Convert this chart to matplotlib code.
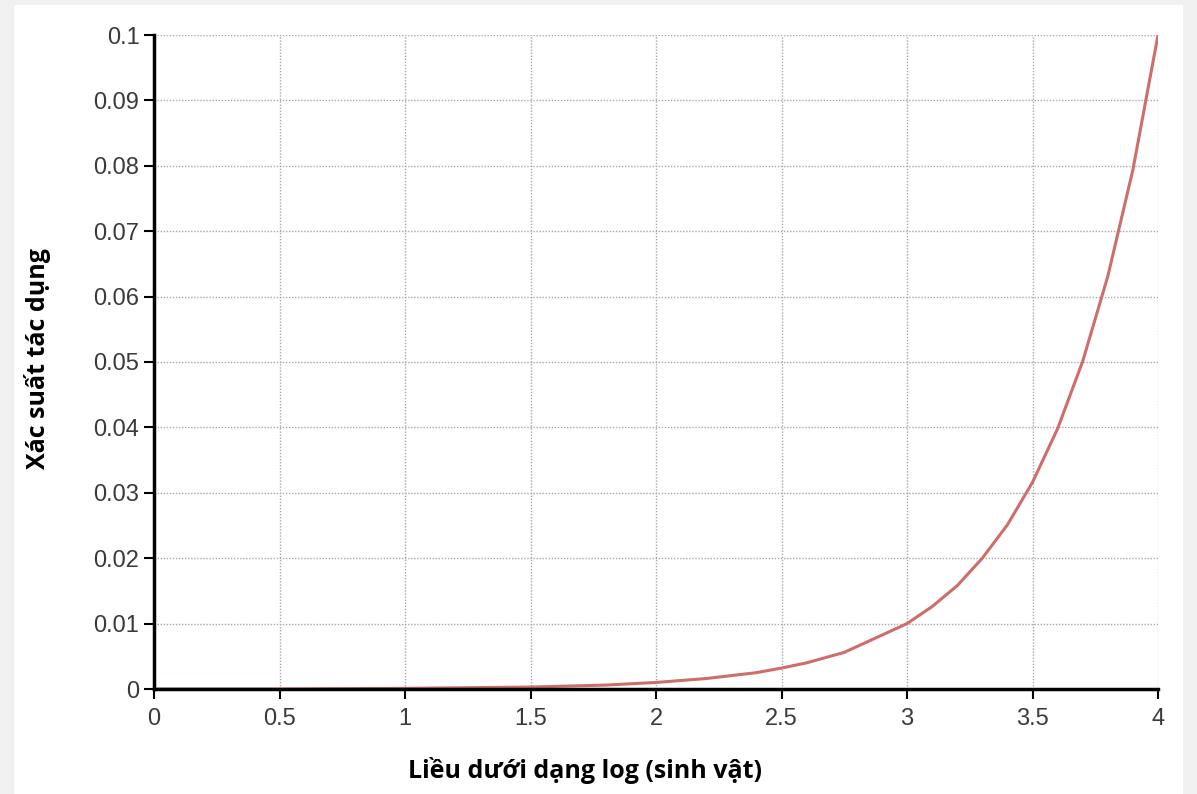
import matplotlib
matplotlib.use('Agg')
import matplotlib.pyplot as plt
from matplotlib.patches import Rectangle

# --- data ------------------------------------------------------------------
log_dose = [0.0, 0.5, 1.0, 1.5, 1.6, 1.8, 2.0, 2.2, 2.4, 2.5, 2.6, 2.75,
            3.0, 3.1, 3.2, 3.3, 3.4, 3.5, 3.6, 3.7, 3.8, 3.9, 4.0]
probability = [0.0, 0.0, 0.0001, 0.0003, 0.0004, 0.0006, 0.001, 0.0016,
               0.0025, 0.0032, 0.004, 0.0056, 0.01, 0.0126, 0.0158, 0.02,
               0.0251, 0.0316, 0.0398, 0.0501, 0.0631, 0.0794, 0.1]

x_ticks = [0, 0.5, 1, 1.5, 2, 2.5, 3, 3.5, 4]
x_tick_labels = ['0', '0.5', '1', '1.5', '2', '2.5', '3', '3.5', '4']
y_ticks = [0, 0.01, 0.02, 0.03, 0.04, 0.05, 0.06, 0.07, 0.08, 0.09, 0.1]
y_tick_labels = ['0', '0.01', '0.02', '0.03', '0.04', '0.05', '0.06',
                 '0.07', '0.08', '0.09', '0.1']

x_label = 'Liều dưới dạng log (sinh vật)'
y_label = 'Xác suất tác dụng'

# --- figure ----------------------------------------------------------------
fig = plt.figure(figsize=(11.97, 7.94), dpi=100, facecolor='#f0f0f0')
# white panel inside the thin grey frame
fig.patches.append(Rectangle((14 / 1197, 0), 1169 / 1197, 789 / 794,
                             transform=fig.transFigure, facecolor='white',
                             edgecolor='none', zorder=-1))

ax = fig.add_axes([154 / 1197, 1 - 689 / 794, 1004 / 1197, 654 / 794])
ax.set_facecolor('white')

ax.plot(log_dose, probability, color='#cd6e6a', lw=2.2, zorder=3,
        solid_joinstyle='round')

ax.set_xlim(0, 4)
ax.set_ylim(0, 0.1)
ax.set_xticks(x_ticks)
ax.set_xticklabels(x_tick_labels)
ax.set_yticks(y_ticks)
ax.set_yticklabels(y_tick_labels)

ax.grid(True, color='#a8a8a8', linestyle=(0, (1, 1.2)), linewidth=1.0)
ax.set_axisbelow(True)

for side in ('top', 'right'):
    ax.spines[side].set_visible(False)
for side in ('left', 'bottom'):
    ax.spines[side].set_linewidth(2.5)
    ax.spines[side].set_color('black')
    ax.spines[side].set_zorder(4)

ax.tick_params(axis='both', direction='out', length=7.5, width=1.5,
               color='black', labelsize=17, labelcolor='#3a3a3a',
               labelfontfamily='Liberation Sans')
ax.tick_params(axis='x', pad=6)
ax.tick_params(axis='y', pad=3)

fig.text(0.489, 0.029, x_label, ha='center', va='center',
         fontsize=18, fontweight='bold', family='Open Sans')
fig.text(0.031, 0.549, y_label, ha='center', va='center', rotation=90,
         fontsize=18, fontweight='bold', family='Open Sans')

fig.savefig('out.png', dpi=100, facecolor=fig.get_facecolor())
